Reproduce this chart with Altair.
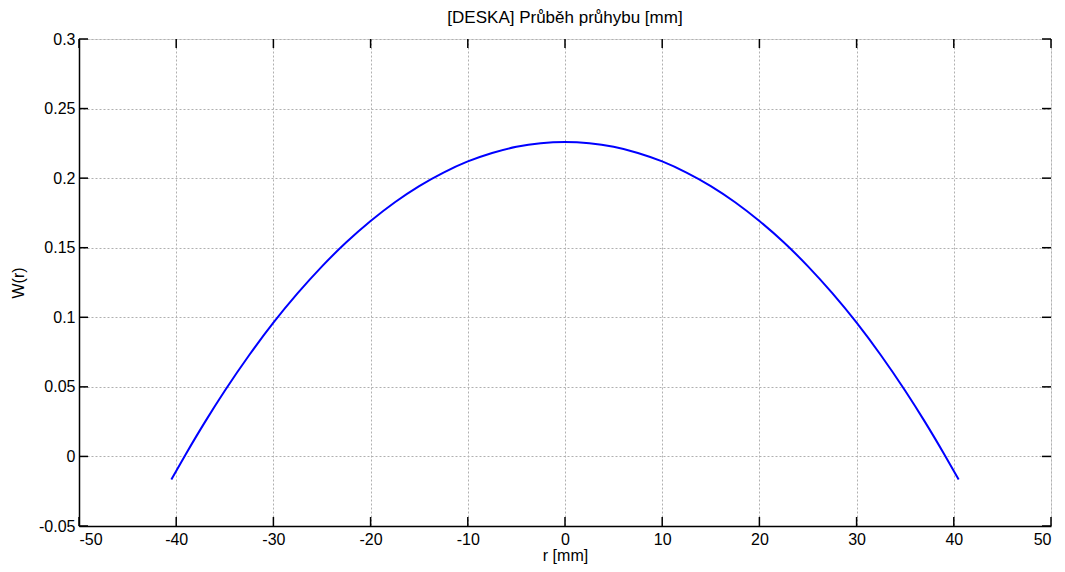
import altair as alt
import pandas as pd

# Curve (symmetric deflection profile)
r_vals = [-40.5, -39, -37, -35, -32.5, -30, -27.5, -25, -22.5, -20, -17.5, -15, -12.5, -10, -7.5, -5, -2.5, 0,
          2.5, 5, 7.5, 10, 12.5, 15, 17.5, 20, 22.5, 25, 27.5, 30, 32.5, 35, 37, 39, 40.5]
w_vals = [-0.0165, 0.0018, 0.0252, 0.0472, 0.0727, 0.0961, 0.1173, 0.1366, 0.1539, 0.1692, 0.1827, 0.1943,
          0.2040, 0.2120, 0.2181, 0.2225, 0.2251, 0.2260,
          0.2251, 0.2225, 0.2181, 0.2120, 0.2040, 0.1943, 0.1827, 0.1692, 0.1539, 0.1366, 0.1173, 0.0961,
          0.0727, 0.0472, 0.0252, 0.0018, -0.0165]

x_ticks = [-50, -40, -30, -20, -10, 0, 10, 20, 30, 40, 50]
y_ticks = [-0.05, 0, 0.05, 0.1, 0.15, 0.2, 0.25, 0.3]

W, H = 972, 487
FONT = "Liberation Sans"

df = pd.DataFrame({"r": r_vals, "w": w_vals})
xt = pd.DataFrame({"t": x_ticks})
yt = pd.DataFrame({"t": y_ticks})

xscale = alt.Scale(domain=[-50, 50], nice=False, zero=False)
yscale = alt.Scale(domain=[-0.05, 0.3], nice=False, zero=False)

common = dict(labelExpr="'' + datum.value", tickSize=0, grid=True,
              gridColor="#b0b0b0", gridDash=[2, 2], gridWidth=1, domainColor="black",
              domainWidth=1.5, labelFontSize=16, labelColor="black",
              titleFontSize=16, titleFontWeight="normal", titleColor="black",
              labelFont=FONT, titleFont=FONT)
xaxis = alt.Axis(values=x_ticks, labelPadding=5, title="r [mm]", titlePadding=0, **common)
yaxis = alt.Axis(values=y_ticks, labelPadding=4, title="W(r)", titlePadding=12, **common)

line = alt.Chart(df).mark_line(color="#0000ff", strokeWidth=2, interpolate="monotone").encode(
    x=alt.X("r:Q", scale=xscale, axis=xaxis),
    y=alt.Y("w:Q", scale=yscale, axis=yaxis),
)

TL = 9
xb = alt.Chart(xt).mark_rule(color="black", strokeWidth=1.5).encode(
    x=alt.X("t:Q", scale=xscale), y=alt.value(H), y2=alt.value(H - TL))
xtop = alt.Chart(xt).mark_rule(color="black", strokeWidth=1.5).encode(
    x=alt.X("t:Q", scale=xscale), y=alt.value(0), y2=alt.value(TL))
yl = alt.Chart(yt).mark_rule(color="black", strokeWidth=1.5).encode(
    y=alt.Y("t:Q", scale=yscale), x=alt.value(0), x2=alt.value(TL))
yr = alt.Chart(yt).mark_rule(color="black", strokeWidth=1.5).encode(
    y=alt.Y("t:Q", scale=yscale), x=alt.value(W), x2=alt.value(W - TL))

chart = alt.layer(line, xb, xtop, yl, yr).properties(
    width=W, height=H,
    title=alt.TitleParams("[DESKA] Průběh průhybu [mm]", fontSize=17, fontWeight="normal",
                          font=FONT, color="black", offset=4),
    autosize=alt.AutoSizeParams(type="none"),
    padding={"left": 71, "top": 31, "right": 6, "bottom": 38},
).configure_view(stroke="black", strokeWidth=1.5).configure(background="white")

chart.save("out.html", embed_options={"renderer": "svg", "actions": False})
